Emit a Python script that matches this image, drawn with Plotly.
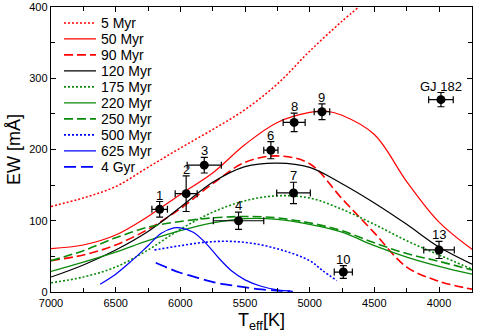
import plotly.graph_objects as go

# ---------------- data ----------------
t_5myr = [7000, 6750, 6500, 6250, 6000, 5750, 5500, 5250, 5000, 4750, 4620]
ew_5myr = [120, 132, 148, 175, 202, 228, 256, 292, 338, 380, 400]

t_std = [7000, 6750, 6500, 6250, 6000, 5750, 5500, 5250, 5000, 4750, 4500, 4250, 4000, 3745]
ew_50myr_t = [7000, 6750, 6500, 6250, 6000, 5750, 5500, 5250, 5000, 4875, 4750, 4500, 4250, 4000, 3745]
ew_50myr = [61, 66, 80, 106, 137, 167, 207, 238, 252, 254, 248, 221, 155, 98, 60]
ew_90myr = [44, 52, 66, 88, 117, 152, 182, 191, 180, 131, 83, 35, 15, 4]
ew_120myr = [21, 38, 59, 85, 119, 154, 176, 181, 175, 152, 125, 95, 63, 39]
ew_175myr = [13, 21, 35, 59, 88, 112, 128, 135, 132, 116, 95, 72, 52, 32]
ew_220myr = [29, 42, 56, 72, 86, 97, 103, 102, 95, 84, 65, 49, 36, 25]
ew_250myr = [44, 58, 76, 91, 99, 104, 106, 104, 97, 86, 69, 54, 43, 31]

t_500myr = [6200, 6000, 5800, 5600, 5400, 5200, 5000, 4900, 4790]
ew_500myr = [59, 65, 70, 71, 67, 58, 44, 30, 16]

t_625myr = [6620, 6500, 6375, 6250, 6150, 6050, 6000, 5900, 5800, 5700, 5600, 5500, 5375, 5250, 5130]
ew_625myr = [11, 25, 44, 65, 82, 90, 90, 84, 68, 47, 29, 17, 8, 3, 1]

t_4gyr = [6190, 6100, 6000, 5850, 5700, 5550, 5400, 5250, 5150]
ew_4gyr = [41, 34, 27, 19, 12, 8, 4, 2, 1]

star_labels = ["1", "2", "3", "4", "6", "7", "8", "9", "10", "13", "GJ 182"]
star_teff = [6160, 5955, 5815, 5550, 5300, 5125, 5120, 4905, 4740, 4000, 3985]
star_ew = [116, 138, 178, 100, 199, 139, 238, 253, 28, 59, 270]
star_ew_err = [11, 25, 11, 12, 12, 15, 13, 11, 9, 12, 10]
star_teff_err = [60, 85, 132, 195, 55, 130, 85, 60, 70, 118, 95]

x_tickvals = [7000, 6500, 6000, 5500, 5000, 4500, 4000]
y_tickvals = [0, 100, 200, 300, 400]

# ---------------- figure ----------------
RED = "#ff0000"
GREEN = "#0a8a0a"
BLUE = "#0000ff"
DASH = "9px,4px"
DOT = "2px,2px"

curves = [
    ("5 Myr", t_5myr, ew_5myr, RED, DOT, 1.5),
    ("50 Myr", ew_50myr_t, ew_50myr, RED, "solid", 1.2),
    ("90 Myr", t_std, ew_90myr, RED, DASH, 1.6),
    ("120 Myr", t_std, ew_120myr, "#000000", "solid", 1.2),
    ("175 Myr", t_std, ew_175myr, GREEN, DOT, 1.6),
    ("220 Myr", t_std, ew_220myr, GREEN, "solid", 1.3),
    ("250 Myr", t_std, ew_250myr, GREEN, DASH, 1.6),
    ("500 Myr", t_500myr, ew_500myr, BLUE, DOT, 1.6),
    ("625 Myr", t_625myr, ew_625myr, BLUE, "solid", 1.2),
    ("4 Gyr", t_4gyr, ew_4gyr, BLUE, "12px,5px", 1.8),
]

fig = go.Figure()
for name, tx, ey, col, dash, w in curves:
    fig.add_trace(go.Scatter(
        x=tx, y=ey, name=name, mode="lines",
        line=dict(color=col, dash=dash, width=w, shape="spline", smoothing=1.0),
    ))

fig.add_trace(go.Scatter(
    x=star_teff, y=star_ew, mode="markers", showlegend=False,
    marker=dict(color="black", size=9),
    error_y=dict(type="data", array=star_ew_err, color="black", thickness=1.2, width=3.5),
    error_x=dict(type="data", array=star_teff_err, color="black", thickness=1.2, width=3.5),
))

for lab, tx, ey, err in zip(star_labels, star_teff, star_ew, star_ew_err):
    fig.add_annotation(x=tx, y=ey + err, text=lab, showarrow=False,
                       xanchor="center", yanchor="bottom", yshift=-3,
                       font=dict(size=13, color="black"))

FONT = "Liberation Sans, Arial, Helvetica, sans-serif"
axis_common = dict(
    showline=True, linecolor="black", linewidth=1.2, mirror="ticks",
    ticks="inside", ticklen=5, tickwidth=1, tickcolor="black",
    showgrid=False, zeroline=False,
    tickfont=dict(size=11, color="black", family=FONT),
)
fig.update_xaxes(
    range=[7000, 3745], tickvals=x_tickvals, ticktext=[str(v) for v in x_tickvals],
    minor=dict(dtick=250, ticks="inside", ticklen=4, tickcolor="black", showgrid=False),
    ticklabelstandoff=1,
    title=dict(text="T<sub>eff</sub>[K]", font=dict(size=18, color="black", family=FONT), standoff=5),
    **axis_common,
)
fig.update_yaxes(
    range=[0, 400], tickvals=y_tickvals, ticktext=[str(v) for v in y_tickvals],
    minor=dict(dtick=50, ticks="inside", ticklen=4, tickcolor="black", showgrid=False),
    title=dict(text="EW [mÅ]", font=dict(size=18, color="black", family=FONT), standoff=4),
    **axis_common,
)

fig.update_layout(
    width=477, height=333,
    margin=dict(l=51, r=5, t=7, b=41, autoexpand=False),
    paper_bgcolor="white", plot_bgcolor="white",
    font=dict(family=FONT, color="black"),
    showlegend=True,
    legend=dict(x=0.019, y=0.999, xanchor="left", yanchor="top",
                bgcolor="rgba(0,0,0,0)", borderwidth=0,
                font=dict(size=14, color="black", family=FONT),
                itemwidth=32, tracegroupgap=0),
)

# page tweaks: no body margin; compact legend row spacing (16 px, as in the reference)
post = r"""
document.body.style.margin = '0';
document.body.style.overflow = 'hidden';
var gd = document.querySelector('.js-plotly-plot');
var items = gd.querySelectorAll('.legend .traces');
if (items.length) {
  var m = /translate\(\s*([-\d.e]+)[\s,]+([-\d.e]+)\s*\)/.exec(items[0].getAttribute('transform'));
  if (m) {
    var x0 = parseFloat(m[1]), y0 = parseFloat(m[2]);
    items.forEach(function (g, i) {
      g.setAttribute('transform', 'translate(' + x0 + ',' + (y0 + 16 * i) + ')');
    });
  }
}
"""

fig.write_html("out.html", post_script=post, config={"staticPlot": True})
